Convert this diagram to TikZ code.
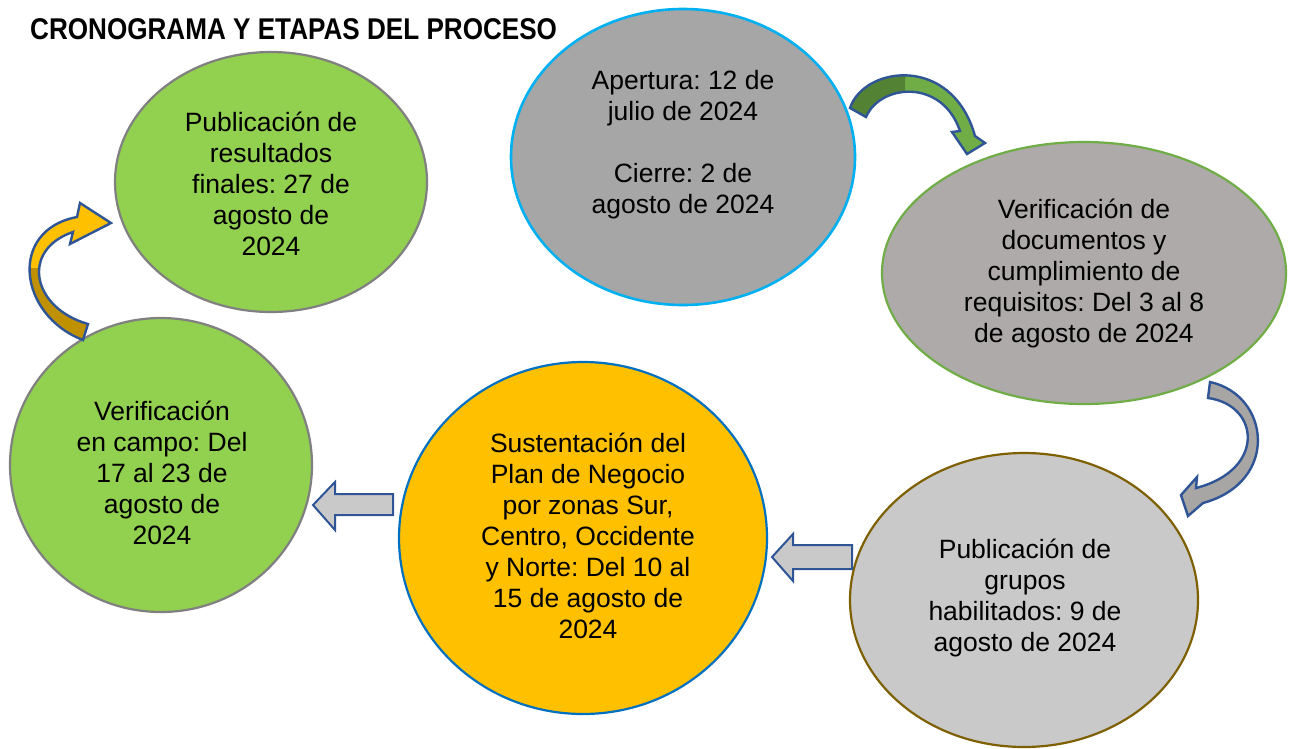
\documentclass[tikz,border=0pt]{standalone}
\usepackage{fontspec}
\setmainfont{Liberation Sans}
\usetikzlibrary{shapes.geometric}
\definecolor{lgreen}{HTML}{92D050}
\definecolor{ggray}{HTML}{808080}
\definecolor{c2fill}{HTML}{A6A6A6}
\definecolor{c2line}{HTML}{00B0F0}
\definecolor{c3fill}{HTML}{AEAAAA}
\definecolor{c3line}{HTML}{70AD47}
\definecolor{c4fill}{HTML}{C9C9C9}
\definecolor{c4line}{HTML}{7F6000}
\definecolor{c5fill}{HTML}{FFC000}
\definecolor{c5line}{HTML}{0070C0}
\definecolor{arrline}{HTML}{2F5597}
\definecolor{darkgreen}{HTML}{548235}
\definecolor{midgreen}{HTML}{70AD47}
\definecolor{darkgold}{HTML}{BF9000}
\definecolor{arrgray}{HTML}{A8A5A5}
\tikzset{
  ell/.style={ellipse, inner sep=0pt, line width=2.2pt},
  txt/.style={align=center, font=\fontsize{26.5}{31}\selectfont\frenchspacing, inner sep=0pt},
  blockarrow/.style={draw=arrline, fill=c4fill, line width=2pt, line join=miter},
  curvearrow/.style={draw=arrline, line width=2.4pt, line join=miter},
}
\newcommand\greenarrowpath{(850,108) -- (866,117) .. controls (880,84) and (942,78) .. (960,131) -- (952,132) -- (967,154) -- (985,143) -- (975,136) .. controls (952,54) and (864,66) .. (850,108) -- cycle}
\newcommand\grayarrowpath{(1210,382) .. controls (1270,395) and (1280,482) .. (1203,503) -- (1188,516) -- (1181,495) -- (1197,477) -- (1196,488) .. controls (1266,470) and (1260,405) .. (1208,398) -- cycle}
\newcommand\goldarrowpath{(83,340) .. controls (18,315) and (8,230) .. (77,217) -- (80,203) -- (111,223) -- (70,244) -- (73,232) .. controls (20,250) and (32,308) .. (88,324) -- cycle}
\begin{document}
\begin{tikzpicture}[x=1pt,y=-1pt]
\useasboundingbox (0,0) rectangle (1290,748);
\fill[white] (0,0) rectangle (1290,748);

% title
\node[anchor=base west, inner sep=0pt, font=\fontsize{30}{34}\selectfont\bfseries] (title) at (30,39) {\scalebox{0.87}[1]{CRONOGRAMA Y ETAPAS DEL PROCESO}};

% ellipses
\node[ell, fill=lgreen, draw=ggray, minimum width=312pt, minimum height=260pt] (e1) at (271,182) {};
\node[ell, fill=c2fill, draw=c2line, line width=2.6pt, minimum width=344pt, minimum height=296pt] (e2) at (683,157) {};
\node[ell, fill=c3fill, draw=c3line, minimum width=404pt, minimum height=262pt] (e3) at (1084,273) {};
\node[ell, fill=c4fill, draw=c4line, minimum width=348pt, minimum height=294pt] (e4) at (1024,600) {};
\node[ell, fill=c5fill, draw=c5line, minimum width=368pt, minimum height=352pt] (e5) at (583,538) {};
\node[ell, fill=lgreen, draw=ggray, minimum width=302pt, minimum height=294pt] (e6) at (161,465) {};

% texts
\node[txt] (t1) at (271,184) {Publicación de\\resultados\\finales: 27 de\\agosto de\\2024};
\node[txt] (t2) at (683,145) {Apertura: 12 de\\julio de 2024\\[31pt]Cierre: 2 de\\agosto de 2024};
\node[txt] (t3) at (1084,273) {Verificación de\\documentos y\\cumplimiento de\\requisitos: Del 3 al 8\\de agosto de 2024};
\node[txt] (t4) at (1025,598) {Publicación de\\grupos\\habilitados: 9 de\\agosto de 2024};
\node[txt] (t5) at (588,536) {Sustentación del\\Plan de Negocio\\por zonas Sur,\\Centro, Occidente\\y Norte: Del 10 al\\15 de agosto de\\2024};
\node[txt] (t6) at (162,473) {Verificación\\en campo: Del\\17 al 23 de\\agosto de\\2024};

% straight block arrows
\draw[blockarrow] (852,545) -- (793,545) -- (793,534) -- (772,557) -- (793,581) -- (793,569) -- (852,569) -- cycle;
\draw[blockarrow] (393,494) -- (335,494) -- (335,482) -- (313,505) -- (335,530) -- (335,515) -- (393,515) -- cycle;

% curved arrows
\fill[midgreen] \greenarrowpath;
\begin{scope}
\clip (840,60) rectangle (905,130);
\fill[darkgreen] \greenarrowpath;
\end{scope}
\draw[curvearrow] \greenarrowpath;

\fill[arrgray] \grayarrowpath;
\draw[curvearrow] \grayarrowpath;

\fill[c5fill] \goldarrowpath;
\begin{scope}
\clip (0,268) rectangle (150,360);
\fill[darkgold] \goldarrowpath;
\end{scope}
\draw[curvearrow] \goldarrowpath;
\end{tikzpicture}
\end{document}
